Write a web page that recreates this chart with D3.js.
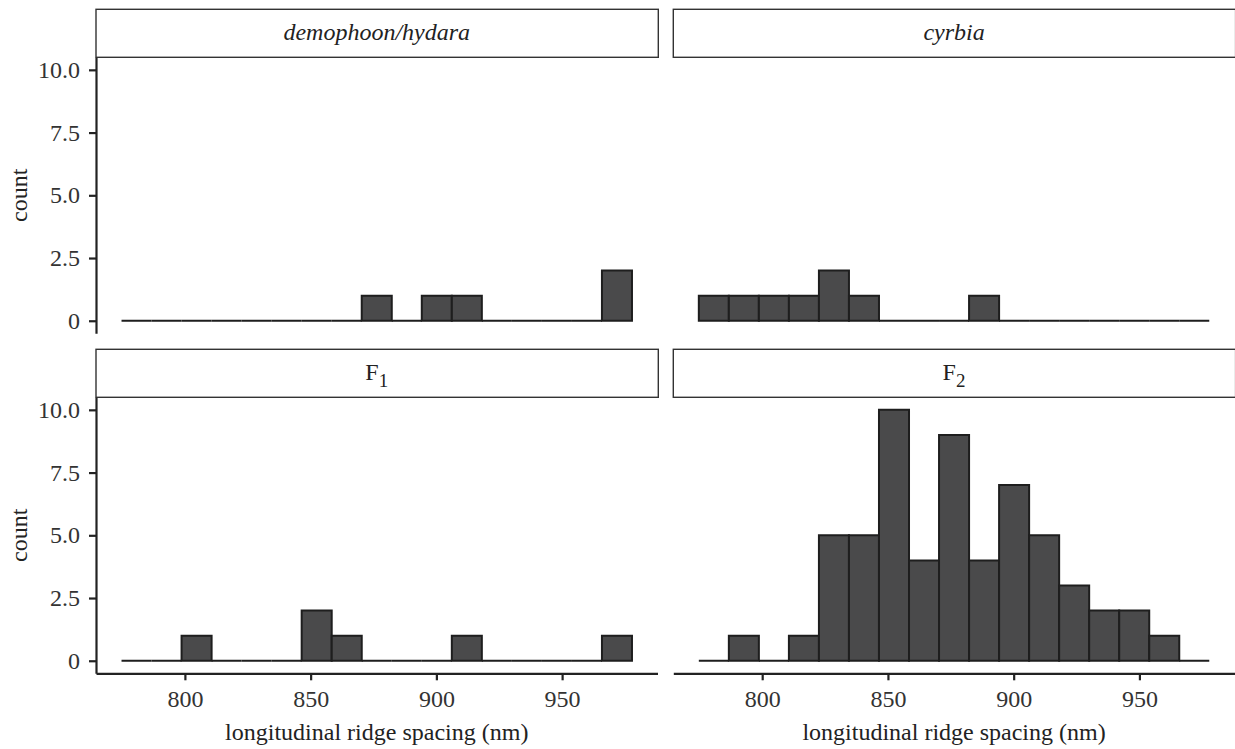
<!DOCTYPE html>
<html>
<head>
<meta charset="utf-8">
<script src="https://cdn.jsdelivr.net/npm/d3@7"></script>
<style>
  body { margin: 0; background: #fff; }
  svg { display: block; font-family: "Liberation Serif", "Times New Roman", serif; }
</style>
</head>
<body>
<div id="chart"></div>
<script>
// histogram bins (shared by all facets)
var binStart = 774.8;
var binWidth = 11.94;

// facet labels and counts per bin
var facetNames = ["demophoon/hydara", "cyrbia", "F1", "F2"];
var countsDemophoon = [0, 0, 0, 0, 0, 0, 0, 0, 1, 0, 1, 1, 0, 0, 0, 0, 2];
var countsCyrbia    = [1, 1, 1, 1, 2, 1, 0, 0, 0, 1, 0, 0, 0, 0, 0, 0, 0];
var countsF1        = [0, 0, 1, 0, 0, 0, 2, 1, 0, 0, 0, 1, 0, 0, 0, 0, 1];
var countsF2        = [0, 1, 0, 1, 5, 5, 10, 4, 9, 4, 7, 5, 3, 2, 2, 1, 0];

var xTicks = [800, 850, 900, 950];
var yTicks = [0, 2.5, 5, 7.5, 10];
var yTickLabels = ["0", "2.5", "5.0", "7.5", "10.0"];

var xTitle = "longitudinal ridge spacing (nm)";
var yTitle = "count";

var width = 1235, height = 749;
var colX = [96, 673.3];
var rowStripY = [9.3, 349.3];
var stripH = 48;
var panelW = 561.5, panelH = 276;
var ink = "#222";

var svg = d3.select("#chart").append("svg")
    .attr("width", width)
    .attr("height", height);

var allCounts = [countsDemophoon, countsCyrbia, countsF1, countsF2];
var nBins = countsF2.length;
var binEdgeMax = binStart + nBins * binWidth;
var maxCount = d3.max(allCounts, function(c) { return d3.max(c); });

// ggplot-like 5% expansion
var xPad = (binEdgeMax - binStart) * 0.05;
var yPad = maxCount * 0.05;

facetNames.forEach(function(name, i) {
    var col = i % 2, row = Math.floor(i / 2);
    var x0 = colX[col];
    var stripY = rowStripY[row];
    var top = stripY + stripH;

    var x = d3.scaleLinear()
        .domain([binStart - xPad, binEdgeMax + xPad])
        .range([x0, x0 + panelW]);
    var y = d3.scaleLinear()
        .domain([-yPad, maxCount + yPad])
        .range([top + panelH, top]);

    var g = svg.append("g");

    // strip
    g.append("rect")
        .attr("x", x0)
        .attr("y", stripY)
        .attr("width", panelW + 0.8)
        .attr("height", stripH)
        .attr("fill", "#fff")
        .attr("stroke", "#333")
        .attr("stroke-width", 1.4);

    var label = g.append("text")
        .attr("x", x0 + panelW / 2)
        .attr("y", stripY + stripH / 2 + 6.5)
        .attr("text-anchor", "middle")
        .attr("font-size", 24)
        .attr("fill", ink);
    if (name.charAt(0) === "F") {
        label.append("tspan").text("F");
        label.append("tspan")
            .attr("dy", 7.4)
            .attr("font-size", 19)
            .text(name.slice(1));
    } else {
        label.attr("font-style", "italic").text(name);
    }

    // bars (paths so zero-count bins still show as a line)
    var counts = allCounts[i];
    g.selectAll("path.bar")
        .data(counts)
        .enter()
        .append("path")
        .attr("class", "bar")
        .attr("d", function(d, k) {
            var a = x(binStart + k * binWidth);
            var b = x(binStart + (k + 1) * binWidth);
            return "M" + a + "," + y(0) + "V" + y(d) + "H" + b + "V" + y(0) + "Z";
        })
        .attr("fill", "#4a4a4b")
        .attr("stroke", "#1e1e1e")
        .attr("stroke-width", 2);

    // y axis on left column
    if (col === 0) {
        var yAxis = g.append("g")
            .attr("transform", "translate(" + x0 + ",0)")
            .call(d3.axisLeft(y)
                .tickValues(yTicks)
                .tickFormat(function(d, k) { return yTickLabels[k]; })
                .tickSizeInner(7)
                .tickSizeOuter(0)
                .tickPadding(9));
        yAxis.select(".domain").attr("stroke", ink).attr("stroke-width", 2.2);
        yAxis.selectAll(".tick line").attr("stroke", ink).attr("stroke-width", 2.2);
        yAxis.selectAll(".tick text")
            .attr("font-size", 24)
            .attr("font-family", "Liberation Serif, serif")
            .attr("fill", "#333");

        svg.append("text")
            .attr("transform", "translate(" + 27 + "," + (top + panelH / 2) + ") rotate(-90)")
            .attr("text-anchor", "middle")
            .attr("font-size", 24)
            .attr("fill", ink)
            .text(yTitle);
    }

    // x axis on bottom row
    if (row === 1) {
        var xAxis = g.append("g")
            .attr("transform", "translate(0," + (top + panelH) + ")")
            .call(d3.axisBottom(x)
                .tickValues(xTicks)
                .tickSizeInner(7)
                .tickSizeOuter(0)
                .tickPadding(10));
        xAxis.select(".domain").attr("stroke", ink).attr("stroke-width", 2.2);
        xAxis.selectAll(".tick line").attr("stroke", ink).attr("stroke-width", 2.2);
        xAxis.selectAll(".tick text")
            .attr("font-size", 24)
            .attr("font-family", "Liberation Serif, serif")
            .attr("fill", "#333");

        svg.append("text")
            .attr("x", x0 + panelW / 2)
            .attr("y", 740)
            .attr("text-anchor", "middle")
            .attr("font-size", 24)
            .attr("fill", ink)
            .text(xTitle);
    }
});
</script>
</body>
</html>
